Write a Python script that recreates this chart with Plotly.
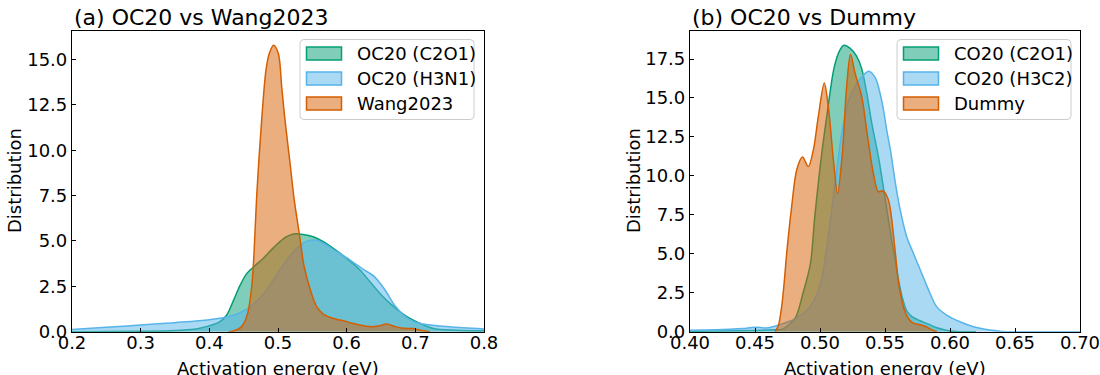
import plotly.graph_objects as go

# ---------------- Panel (a): OC20 vs Wang2023 ----------------
a_c2o1_x = [0.20, 0.30, 0.35, 0.386, 0.4155, 0.4253, 0.4349, 0.4447, 0.4544, 0.464, 0.4786,
            0.4931, 0.5077, 0.5223, 0.5368, 0.5514, 0.566, 0.5806, 0.600, 0.6194, 0.634,
            0.6485, 0.6631, 0.6777, 0.6922, 0.7068, 0.7262, 0.76, 0.80]
a_c2o1_y = [0.0, 0.02, 0.06, 0.19, 0.55, 0.92, 1.7, 2.55, 3.2, 3.55, 4.05,
            4.62, 5.12, 5.38, 5.36, 5.23, 4.96, 4.59, 4.04, 3.40, 2.75,
            2.11, 1.56, 1.10, 0.73, 0.46, 0.18, 0.08, 0.05]

a_h3n1_x = [0.20, 0.25, 0.30, 0.35, 0.40, 0.43, 0.45, 0.465, 0.48, 0.495, 0.51, 0.525,
            0.54, 0.552, 0.566, 0.585, 0.605, 0.625, 0.640, 0.655, 0.670, 0.685, 0.700,
            0.720, 0.750, 0.800]
a_h3n1_y = [0.12, 0.24, 0.37, 0.50, 0.66, 0.85, 1.15, 1.55, 2.15, 2.95, 3.8, 4.5,
            4.95, 5.05, 4.88, 4.42, 3.95, 3.42, 3.05, 2.35, 1.45, 0.85, 0.52,
            0.38, 0.27, 0.15]

a_wang_x = [0.428, 0.435, 0.447, 0.4558, 0.4617, 0.4651, 0.469, 0.4762, 0.4825, 0.4873,
            0.4935, 0.5005, 0.5054, 0.5102, 0.5175, 0.5235, 0.531, 0.538, 0.548, 0.5563,
            0.566, 0.5757, 0.5903, 0.6048, 0.6194, 0.634, 0.646, 0.6583, 0.6704, 0.6825,
            0.697, 0.7092, 0.7213]
a_wang_y = [0.0, 0.04, 0.28, 1.01, 2.48, 4.32, 7.49, 11.66, 14.41, 15.33,
            15.78, 15.33, 13.49, 11.66, 9.3, 7.3, 5.4, 3.6, 2.2, 1.38,
            0.97, 0.79, 0.64, 0.50, 0.37, 0.28, 0.31, 0.42, 0.28, 0.19,
            0.17, 0.06, 0.0]

# ---------------- Panel (b): OC20 vs Dummy ----------------
b_c2o1_x = [0.40, 0.45, 0.465, 0.4707, 0.476, 0.4815, 0.487, 0.4925, 0.496, 0.5007,
            0.5055, 0.511, 0.5155, 0.5185, 0.523, 0.528, 0.532, 0.536, 0.540, 0.545,
            0.550, 0.5545, 0.559, 0.563, 0.567, 0.571, 0.577, 0.583, 0.590, 0.597,
            0.605, 0.62]
b_c2o1_y = [0.02, 0.08, 0.12, 0.15, 0.43, 0.96, 2.5, 4.3, 7.4, 11.0,
            14.0, 17.0, 18.1, 18.38, 18.2, 17.7, 16.9, 15.3, 13.3, 11.2,
            8.6, 6.2, 4.0, 2.3, 1.3, 0.95, 0.7, 0.5, 0.25, 0.1,
            0.02, 0.0]

b_h3c2_x = [0.40, 0.42, 0.44, 0.45, 0.46, 0.4707, 0.4815, 0.4923, 0.5004, 0.5058,
            0.5111, 0.5165, 0.5219, 0.5273, 0.5327, 0.5375, 0.5425, 0.5462, 0.5489,
            0.5513, 0.5543, 0.5575, 0.5615, 0.5667, 0.5718, 0.5782, 0.5846, 0.5897,
            0.5974, 0.6077, 0.618, 0.6308, 0.640, 0.66, 0.70]
b_h3c2_y = [0.10, 0.12, 0.20, 0.28, 0.25, 0.50, 0.85, 1.6, 3.1, 5.8,
            9.2, 12.6, 14.8, 15.8, 16.4, 16.72, 16.3, 15.3, 14.2,
            12.95, 11.6, 9.8, 7.9, 6.1, 5.04, 3.75, 2.47, 1.61,
            1.07, 0.64, 0.32, 0.11, 0.02, 0.0, 0.0]

b_dummy_x = [0.4655, 0.468, 0.4705, 0.4725, 0.4744, 0.4782, 0.4821, 0.4865, 0.4910,
             0.4949, 0.4987, 0.5033, 0.5064, 0.5103, 0.5135, 0.5172, 0.5205, 0.5235,
             0.5269, 0.5321, 0.5359, 0.541, 0.5449, 0.5485, 0.5526, 0.5577, 0.5605,
             0.5645, 0.568, 0.5718, 0.577, 0.582, 0.587, 0.590]
b_dummy_y = [0.0, 0.4, 1.6, 3.2, 5.04, 8.03, 10.39, 11.22, 10.6,
             11.67, 13.81, 15.96, 14.45, 11.03, 8.87, 11.46, 15.74, 17.8,
             16.6, 15.09, 12.95, 10.17, 8.99, 9.04, 8.46, 5.25, 3.1,
             1.5, 0.85, 0.55, 0.45, 0.3, 0.08, 0.0]

a_names = ["OC20 (C2O1)", "OC20 (H3N1)", "Wang2023"]
b_names = ["CO20 (C2O1)", "CO20 (H3C2)", "Dummy"]
colors = ["#029E73", "#56B4E9", "#D55E00"]
fills = ["rgba(2,158,115,0.5)", "rgba(86,180,233,0.5)", "rgba(213,94,0,0.5)"]

x_ticks_a = [0.2, 0.3, 0.4, 0.5, 0.6, 0.7, 0.8]
x_ticks_b = [0.40, 0.45, 0.50, 0.55, 0.60, 0.65, 0.70]
y_ticks_a = [0.0, 2.5, 5.0, 7.5, 10.0, 12.5, 15.0]
y_ticks_b = [0.0, 2.5, 5.0, 7.5, 10.0, 12.5, 15.0, 17.5]

FONT = "DejaVu Sans"
BASE = 18
TITLE = 22
W, H = 1100, 375

fig = go.Figure()

a_series = [(a_c2o1_x, a_c2o1_y), (a_h3n1_x, a_h3n1_y), (a_wang_x, a_wang_y)]
b_series = [(b_c2o1_x, b_c2o1_y), (b_h3c2_x, b_h3c2_y), (b_dummy_x, b_dummy_y)]

for i, (xs, ys) in enumerate(a_series):
    fig.add_trace(go.Scatter(
        x=xs, y=ys, mode="lines", fill="tozeroy", fillcolor=fills[i],
        line=dict(color=colors[i], width=1.5, shape="spline", smoothing=0.9),
        name=a_names[i], showlegend=False, xaxis="x", yaxis="y"))
for i, (xs, ys) in enumerate(b_series):
    fig.add_trace(go.Scatter(
        x=xs, y=ys, mode="lines", fill="tozeroy", fillcolor=fills[i],
        line=dict(color=colors[i], width=1.5, shape="spline", smoothing=0.9),
        name=b_names[i], showlegend=False, xaxis="x2", yaxis="y2"))

ymax_a = 1.05 * max(max(s[1]) for s in a_series)
ymax_b = 1.05 * max(max(s[1]) for s in b_series)

y_dom = [1 - 331.7 / H, 1 - 31 / H]
common_ax = dict(ticks="inside", ticklen=4, tickwidth=1, tickcolor="black",
                 showline=True, mirror=True, linecolor="black", linewidth=1.2,
                 showgrid=False, zeroline=False, automargin=False,
                 ticklabeloverflow="allow",
                 tickfont=dict(family=FONT, size=BASE, color="black"))

fig.update_layout(
    template="none",
    width=W, height=H, margin=dict(l=0, r=0, t=0, b=0, pad=0),
    paper_bgcolor="white", plot_bgcolor="white", showlegend=False,
    font=dict(family=FONT, color="black"),
    xaxis=dict(domain=[72 / W, 484 / W], range=[0.2, 0.8], tickvals=x_ticks_a,
               tickformat=".1f", anchor="y", ticklabelstandoff=-5, **common_ax),
    yaxis=dict(domain=y_dom, range=[0, ymax_a], tickvals=y_ticks_a,
               tickformat=".1f", anchor="x", **common_ax),
    xaxis2=dict(domain=[690 / W, 1080 / W], range=[0.40, 0.70], tickvals=x_ticks_b,
                tickformat=".2f", anchor="y2", ticklabelstandoff=-5, **common_ax),
    yaxis2=dict(domain=y_dom, range=[0, ymax_b], tickvals=y_ticks_b,
                tickformat=".1f", anchor="x2", **common_ax),
)


def px(xp):
    return xp / W


def py(yp):
    return 1 - yp / H


ann = []
shapes = []
ann.append(dict(text="(a) OC20 vs Wang2023", x=px(72), y=py(17), xref="paper", yref="paper",
                xanchor="left", yanchor="middle", showarrow=False,
                font=dict(family=FONT, size=TITLE, color="black")))
ann.append(dict(text="(b) OC20 vs Dummy", x=px(690), y=py(17), xref="paper", yref="paper",
                xanchor="left", yanchor="middle", showarrow=False,
                font=dict(family=FONT, size=TITLE, color="black")))
for xc in (14, 633):
    ann.append(dict(text="Distribution", x=px(xc), y=py(181), xref="paper", yref="paper",
                    xanchor="center", yanchor="middle", textangle=-90, showarrow=False,
                    font=dict(family=FONT, size=BASE, color="black")))
for xc in (278, 885):
    ann.append(dict(text="Activation energy (eV)", x=px(xc), y=py(368), xref="paper",
                    yref="paper", xanchor="center", yanchor="middle", showarrow=False,
                    font=dict(family=FONT, size=BASE, color="black")))

# legends (frame, swatches, labels)
legend_boxes = [(300, 474, a_names), (897, 1071, b_names)]
row_y = [53.5, 78.5, 103.5]
for (x0, x1, names) in legend_boxes:
    r = 4
    y0, y1 = 39.5, 119.5
    path = ("M{a},{b} L{c},{b} Q{x1},{b} {x1},{d} L{x1},{e} Q{x1},{f} {c},{f} "
            "L{a},{f} Q{x0},{f} {x0},{e} L{x0},{d} Q{x0},{b} {a},{b} Z").format(
        a=px(x0 + r), b=py(y0), c=px(x1 - r), d=py(y0 + r), e=py(y1 - r), f=py(y1),
        x0=px(x0), x1=px(x1))
    shapes.append(dict(type="path", path=path, xref="paper", yref="paper",
                       line=dict(color="#cccccc", width=1),
                       fillcolor="rgba(255,255,255,0.8)", layer="above"))
    for k, name in enumerate(names):
        shapes.append(dict(type="rect", xref="paper", yref="paper",
                           x0=px(x0 + 6.5), x1=px(x0 + 41.5),
                           y0=py(row_y[k] - 6.5), y1=py(row_y[k] + 6.5),
                           line=dict(color=colors[k], width=1.5),
                           fillcolor=fills[k], layer="above"))
        ann.append(dict(text=name, x=px(x0 + 55), y=py(row_y[k]), xref="paper", yref="paper",
                        xanchor="left", yanchor="middle", showarrow=False,
                        font=dict(family=FONT, size=BASE, color="black")))

fig.update_layout(annotations=ann, shapes=shapes)

fig.write_html("out.html")
